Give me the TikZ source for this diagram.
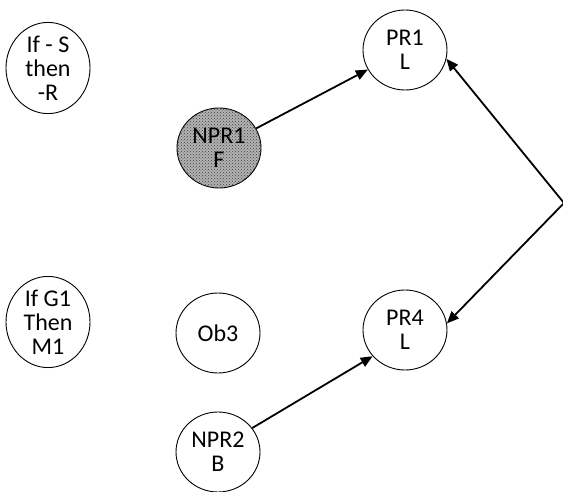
\documentclass[tikz,border=0pt]{standalone}
\usepackage{fontspec}
\setmainfont{Carlito}
\usetikzlibrary{shapes.geometric,arrows.meta,patterns}

\tikzset{
  state/.style={ellipse, draw=black, line width=0.9pt, minimum width=84pt,
    minimum height=80pt, inner sep=0pt, align=center,
    font=\fontsize{24}{24}\selectfont},
  shaded/.style={state, fill=black!30,
    postaction={pattern=crosshatch dots, pattern color=black!75}},
  link/.style={line width=1.8pt, -{Triangle[length=12pt,width=10pt]}}
}

\begin{document}
\begin{tikzpicture}[x=1pt,y=-1pt]
  \useasboundingbox (0,0) rectangle (563,492);

  % rule nodes on the left
  \node[state] (ifs) at (48,68) {If - S\\then\\-R};
  \node[state] (ifg) at (48,322) {If G1\\Then\\M1};

  % objects
  \node[shaded] (npr1) at (219,148) {NPR1\\F};
  \node[state] (ob3) at (218,333) {Ob3};
  \node[state] (npr2) at (218,452) {NPR2\\B};
  \node[state] (pr1) at (405,50) {PR1\\L};
  \node[state] (pr4) at (405,330) {PR4\\L};

  % apex of the right-hand fork
  \coordinate (apex) at (564,203);

  \draw[link] (npr1) -- (pr1);
  \draw[link] (npr2.35) -- (pr4.219);
  \draw[link] (apex) -- (pr1.-12);
  \draw[link] (apex) -- (pr4.9);
\end{tikzpicture}
\end{document}
